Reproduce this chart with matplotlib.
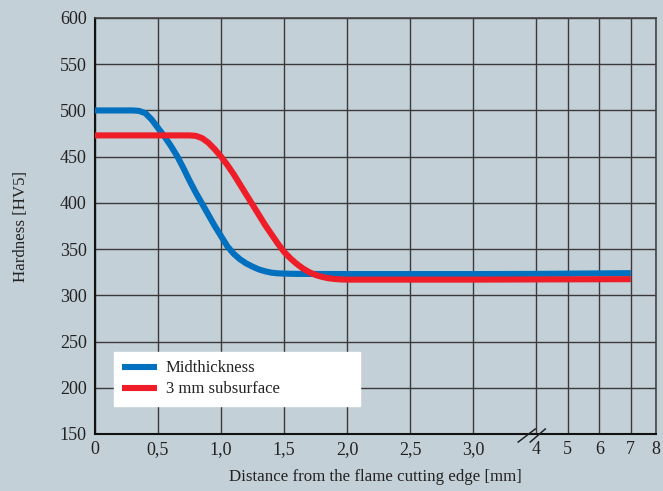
import numpy as np
import matplotlib
matplotlib.use("Agg")
import matplotlib.pyplot as plt
from matplotlib.scale import FuncScale

plt.rcParams['font.family'] = ['Liberation Serif', 'DejaVu Serif']

# ---- data ----
mid_x = [0, 0.3, 0.35, 0.4, 0.45, 0.5, 0.55, 0.6, 0.65, 0.7, 0.75, 0.8, 0.85, 0.9,
         0.95, 1.0, 1.05, 1.1, 1.15, 1.2, 1.25, 1.3, 1.35, 1.4, 1.45, 1.5, 1.6,
         2.0, 3.0, 4.0, 7.0]
mid_y = [500, 500, 499.5, 497, 490, 481, 472, 462, 451, 438, 424, 411, 399, 387,
         375, 364, 353, 345, 339, 334.5, 331, 328, 326, 324.5, 323.8, 323.5, 323.2,
         323, 323, 323.2, 324]

sub_x = [0, 0.75, 0.8, 0.85, 0.9, 0.95, 1.0, 1.05, 1.1, 1.15, 1.2, 1.25, 1.3, 1.35,
         1.4, 1.45, 1.5, 1.55, 1.6, 1.65, 1.7, 1.75, 1.8, 1.85, 1.9, 1.95, 2.0,
         3.0, 4.0, 7.0]
sub_y = [473, 473, 472.5, 470, 465, 458, 450, 441, 431, 420, 409, 398, 387, 376,
         366, 356, 347, 340, 334, 329, 325, 322, 320, 318.5, 317.7, 317.2, 317,
         317, 317.2, 317.5]

series_labels = ["Midthickness", "3 mm subsurface"]
x_ticks = [0, 0.5, 1.0, 1.5, 2.0, 2.5, 3.0, 4, 5, 6, 7, 8]
x_ticklabels = ["0", "0,5", "1,0", "1,5", "2,0", "2,5", "3,0", "4", "5", "6", "7", "8"]
y_ticks = [150, 200, 250, 300, 350, 400, 450, 500, 550, 600]

# broken x-axis: piecewise linear scale
brk_data = [0, 3, 4, 7, 8]
brk_disp = [0, 3, 3.5, 4.25, 4.45]

def fwd(x):
    return np.interp(x, brk_data, brk_disp)

def inv(x):
    return np.interp(x, brk_disp, brk_data)

bg = '#c4d0d7'
fig = plt.figure(figsize=(6.63, 4.91), dpi=100, facecolor=bg)
ax = fig.add_axes([95/663, 57/491, 561/663, 416/491], facecolor=bg)
ax.set_xscale(FuncScale(ax.xaxis, (fwd, inv)))
ax.set_xlim(0, 8)
ax.set_ylim(150, 600)

ax.set_xticks(x_ticks)
ax.set_xticklabels(x_ticklabels)
ax.set_yticks(y_ticks)
ax.tick_params(length=0, labelsize=13, colors='#222222')
ax.tick_params(axis='y', pad=6)
ax.tick_params(axis='x', pad=5)
ax.grid(True, color='#3a3a3a', lw=1.0)
ax.set_axisbelow(True)

for s in ['left', 'bottom']:
    ax.spines[s].set_color('#111111')
    ax.spines[s].set_linewidth(1.5)
for s in ['top', 'right']:
    ax.spines[s].set_color('#444444')
    ax.spines[s].set_linewidth(1.2)

ax.plot(mid_x, mid_y, color='#0070bf', lw=4.4, solid_capstyle='butt', label=series_labels[0], zorder=3)
ax.plot(sub_x, sub_y, color='#ee1d27', lw=4.4, solid_capstyle='butt', label=series_labels[1], zorder=3)

# axis break marks
for x0, x1 in [(3.714, 3.984), (3.905, 4.286)]:
    ax.plot([x0, x1], [141.3, 155.4], color='#222222', lw=1.1, clip_on=False, zorder=5)

ax.set_xlabel("Distance from the flame cutting edge [mm]", fontsize=12.2, color='#222222')
ax.set_ylabel("Hardness [HV5]", fontsize=12.2, color='#222222')
ax.xaxis.set_label_coords(0.5, -0.083)
ax.yaxis.set_label_coords(-0.118, 0.5)

leg = ax.legend(loc='upper left', bbox_to_anchor=(19/561, 25/416, 246/561, 57/416),
                mode='expand', frameon=True, fancybox=False, shadow=False,
                fontsize=12, handlelength=2.05, handletextpad=0.55,
                borderaxespad=0, borderpad=0.5, labelspacing=0.3)
leg.get_frame().set_facecolor('white')
leg.get_frame().set_edgecolor('white')
leg.get_frame().set_alpha(1.0)
for t in leg.get_texts():
    t.set_color('#222222')

fig.savefig('out.png', dpi=100, facecolor=bg)
